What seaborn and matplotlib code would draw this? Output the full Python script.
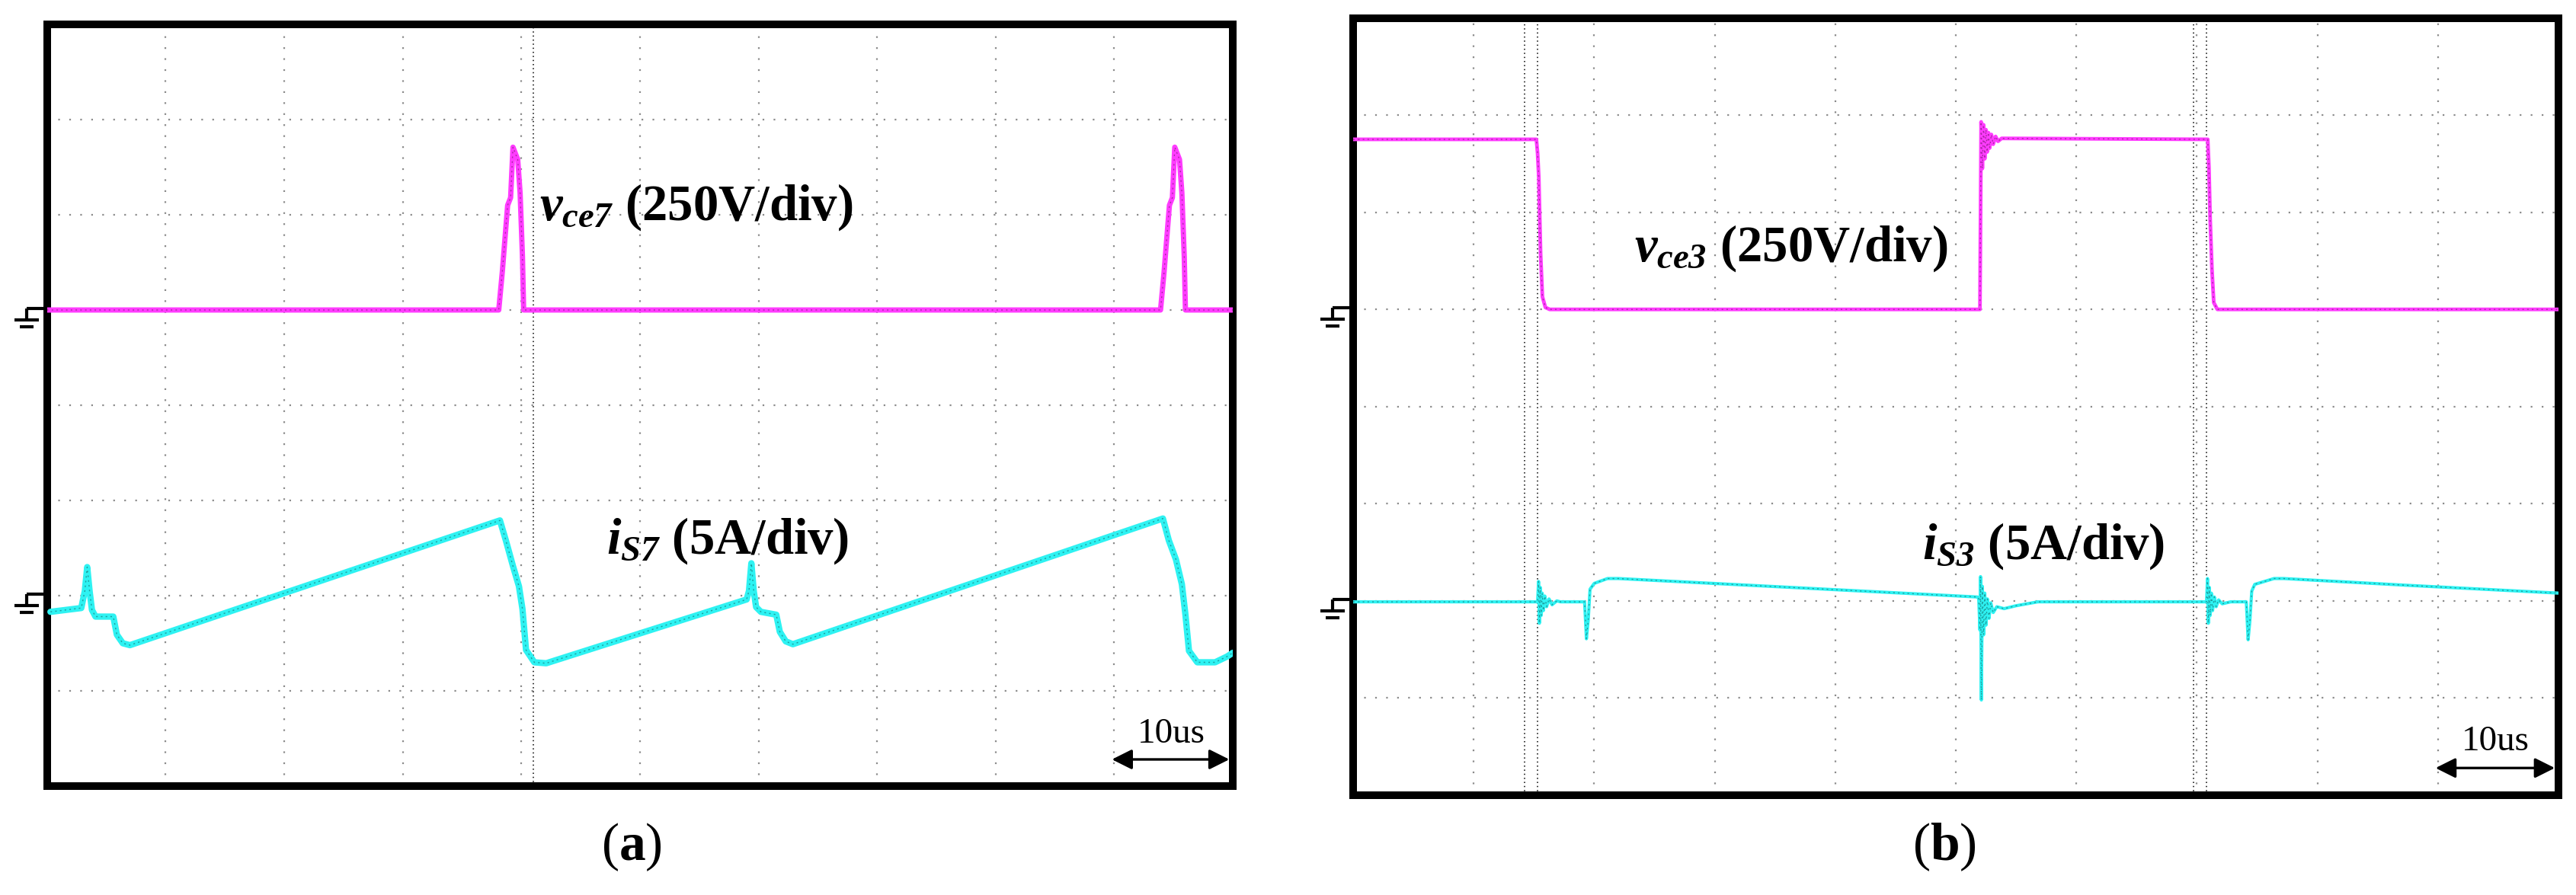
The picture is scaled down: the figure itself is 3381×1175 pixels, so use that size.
import matplotlib
matplotlib.use('Agg')
from matplotlib import pyplot as plt
from matplotlib.transforms import blended_transform_factory
import seaborn as sns
import pandas as pd

# time in us (10 us/div), amplitude in divisions (screen -4..4)
# (a) v_ce7 and i_S7
t_vce7 = [0, 38.1, 38.4, 38.85, 39.1, 39.3, 39.7, 39.9, 40.1, 40.2,
          93.9, 94.2, 94.65, 94.9, 95.1, 95.5, 95.7, 95.9, 96.0, 100]
v_vce7 = [1.0, 1.0, 1.40, 2.10, 2.18, 2.71, 2.58, 2.23, 1.56, 1.0,
          1.0, 1.40, 2.10, 2.18, 2.71, 2.58, 2.23, 1.56, 1.0, 1.0]

t_is7 = [0.3, 2.9, 3.2, 3.4, 3.6, 3.8, 4.1, 5.6, 5.9, 6.4, 7.0,
         38.2, 38.7, 39.3, 39.8, 40.1, 40.4, 41.1, 42.1,
         59.0, 59.2, 59.4, 59.6, 59.8, 60.2, 61.5, 61.8, 62.3, 62.9,
         94.1, 94.6, 95.2, 95.7, 96.0, 96.3, 97.0, 98.5, 99.5, 100]
v_is7 = [-2.17, -2.13, -1.95, -1.70, -1.95, -2.15, -2.22, -2.22, -2.41, -2.50, -2.52,
         -1.21, -1.42, -1.69, -1.90, -2.14, -2.57, -2.70, -2.71,
         -2.04, -1.95, -1.66, -1.95, -2.12, -2.17, -2.20, -2.38, -2.48, -2.51,
         -1.19, -1.42, -1.62, -1.88, -2.20, -2.58, -2.70, -2.70, -2.64, -2.60]

# (b) v_ce3 and i_S3
t_vce3 = [0, 15.2, 15.3, 15.4, 15.55, 15.7, 15.95, 16.3,
          52.0, 52.1, 52.2, 52.3, 52.4, 52.5, 52.6, 52.7, 52.8, 52.95, 53.1, 53.3, 53.5, 53.8,
          70.9, 71.0, 71.1, 71.25, 71.4, 71.7, 100]
v_vce3 = [2.75, 2.75, 2.61, 2.36, 1.57, 1.13, 1.02, 1.0,
          1.0, 2.93, 2.45, 2.90, 2.55, 2.85, 2.62, 2.82, 2.66, 2.80, 2.70, 2.78, 2.73, 2.76,
          2.75, 2.46, 1.93, 1.41, 1.07, 1.0, 1.0]

t_is3 = [0, 15.3, 15.38, 15.45, 15.52, 15.6, 15.68, 15.78, 15.9, 16.05, 16.25, 16.5, 16.9, 17.2,
         19.2, 19.35, 19.5, 19.65, 20.0, 21.1, 22.0, 51.8,
         51.9, 52.0, 52.05, 52.12, 52.2, 52.3, 52.4, 52.5, 52.62, 52.75, 52.9, 53.1, 53.4, 54.0, 55.0, 56.8,
         70.8, 70.88, 70.95, 71.03, 71.1, 71.2, 71.3, 71.45, 71.6, 71.8, 72.1, 72.8,
         74.1, 74.25, 74.4, 74.55, 74.8, 76.4, 77.2, 87.5, 100]
v_is3 = [-2.01, -2.01, -1.80, -2.23, -1.86, -2.15, -1.92, -2.10, -1.95, -2.06, -1.98, -2.04, -2.00, -2.01,
         -2.01, -2.39, -2.20, -1.88, -1.82, -1.77, -1.77, -1.96,
         -1.98, -2.30, -1.75, -3.02, -1.85, -2.35, -1.92, -2.25, -1.98, -2.18, -2.02, -2.12, -2.06, -2.08, -2.05, -2.01,
         -2.01, -1.77, -2.23, -1.86, -2.15, -1.92, -2.10, -1.96, -2.06, -1.99, -2.03, -2.01,
         -2.01, -2.40, -2.20, -1.90, -1.83, -1.77, -1.77, -1.84, -1.92]

cursor_a = [41.0]
cursor_b = [14.2, 15.3, 69.7, 70.8]
ground_levels = [1, -2]

MAGENTA = '#ff3cff'
CYAN = '#2ef2f2'

sns.set_style('white')
plt.rcParams['font.family'] = ['Liberation Serif', 'DejaVu Serif']
plt.rcParams['text.color'] = 'black'
plt.rcParams['mathtext.fontset'] = 'custom'
plt.rcParams['mathtext.it'] = 'Liberation Serif:italic:bold'
plt.rcParams['mathtext.rm'] = 'Liberation Serif:italic:bold'
plt.rcParams['mathtext.bf'] = 'Liberation Serif:bold'

fig = plt.figure(figsize=(33.81, 11.75), dpi=100)
ax_a = fig.add_axes([0.0182, 0.1217, 0.4604, 0.8511])
ax_b = fig.add_axes([0.5253, 0.1115, 0.4679, 0.8685])


def trace(ax, t, v, color, dark, lw):
    df = pd.DataFrame({'t': t, 'v': v})
    sns.lineplot(data=df, x='t', y='v', sort=False, estimator=None, ax=ax,
                 color=color, linewidth=lw, zorder=3)
    sns.lineplot(data=df, x='t', y='v', sort=False, estimator=None, ax=ax,
                 color=dark, linewidth=1.0, alpha=0.5, linestyle=(0, (1.5, 3)), zorder=4)


def ground(ax, y, w_px, px_per_div):
    tr = blended_transform_factory(ax.transAxes, ax.transData)
    segs = [((-27, 2), (0, 2)), ((-27, 2), (-27, -13)),
            ((-43, -13), (-11, -13)), ((-36, -22), (-18, -22))]
    for (x0, y0), (x1, y1) in segs:
        ax.plot([x0 / w_px, x1 / w_px], [y + y0 / px_per_div, y + y1 / px_per_div],
                transform=tr, color='black', lw=3, clip_on=False, solid_capstyle='butt')


def scope(ax, cursors, w_px, px_per_div):
    ax.set_xlim(0, 100)
    ax.set_ylim(-4, 4)
    ax.set_xticks(range(10, 100, 10))
    ax.set_yticks(range(-3, 4))
    ax.grid(True, color='#8c8c8c', linestyle=(0, (1, 5.5)), linewidth=1.6)
    ax.tick_params(length=0, labelbottom=False, labelleft=False)
    ax.set_xlabel('')
    ax.set_ylabel('')
    for s in ax.spines.values():
        s.set_visible(True)
        s.set_color('black')
        s.set_linewidth(7.2)
    for c in cursors:
        ax.axvline(c, color='black', lw=1.1, linestyle=(0, (1, 2.5)), zorder=1)
    for g in ground_levels:
        ground(ax, g, w_px, px_per_div)
    ax.annotate('', xy=(99.7, -3.72), xytext=(89.8, -3.72),
                arrowprops=dict(arrowstyle='<|-|>', color='black', lw=2.4,
                                mutation_scale=40, shrinkA=0, shrinkB=0))
    ax.text(94.8, -3.54, '10us', fontsize=34, ha='center', va='baseline',
            color='black', family=['Liberation Serif'])


trace(ax_a, t_vce7, v_vce7, MAGENTA, '#5a1050', 5)
trace(ax_a, t_is7, v_is7, CYAN, '#0d4848', 6)
scope(ax_a, cursor_a, 1556, 125)
ax_a.text(41.5, 1.95, r'$v_{ce7}$ (250V/div)', fontsize=48, fontweight='bold',
          color='black', ha='left', va='baseline')
ax_a.text(47.2, -1.56, r'$i_{S7}$ (5A/div)', fontsize=48, fontweight='bold',
          color='black', ha='left', va='baseline')

trace(ax_b, t_vce3, v_vce3, MAGENTA, '#5a1050', 3.5)
trace(ax_b, t_is3, v_is3, CYAN, '#0d4848', 3)
scope(ax_b, cursor_b, 1582, 127.6)
ax_b.text(23.3, 1.50, r'$v_{ce3}$ (250V/div)', fontsize=48, fontweight='bold',
          color='black', ha='left', va='baseline')
ax_b.text(47.2, -1.57, r'$i_{S3}$ (5A/div)', fontsize=48, fontweight='bold',
          color='black', ha='left', va='baseline')

fig.text(829 / 3381, 1 - 1112 / 1175, r'($\mathbf{a}$)', fontsize=50, color='black',
         ha='center', va='center')
fig.text(2552 / 3381, 1 - 1112 / 1175, r'($\mathbf{b}$)', fontsize=50, color='black',
         ha='center', va='center')

fig.savefig('out.png', dpi=100)
